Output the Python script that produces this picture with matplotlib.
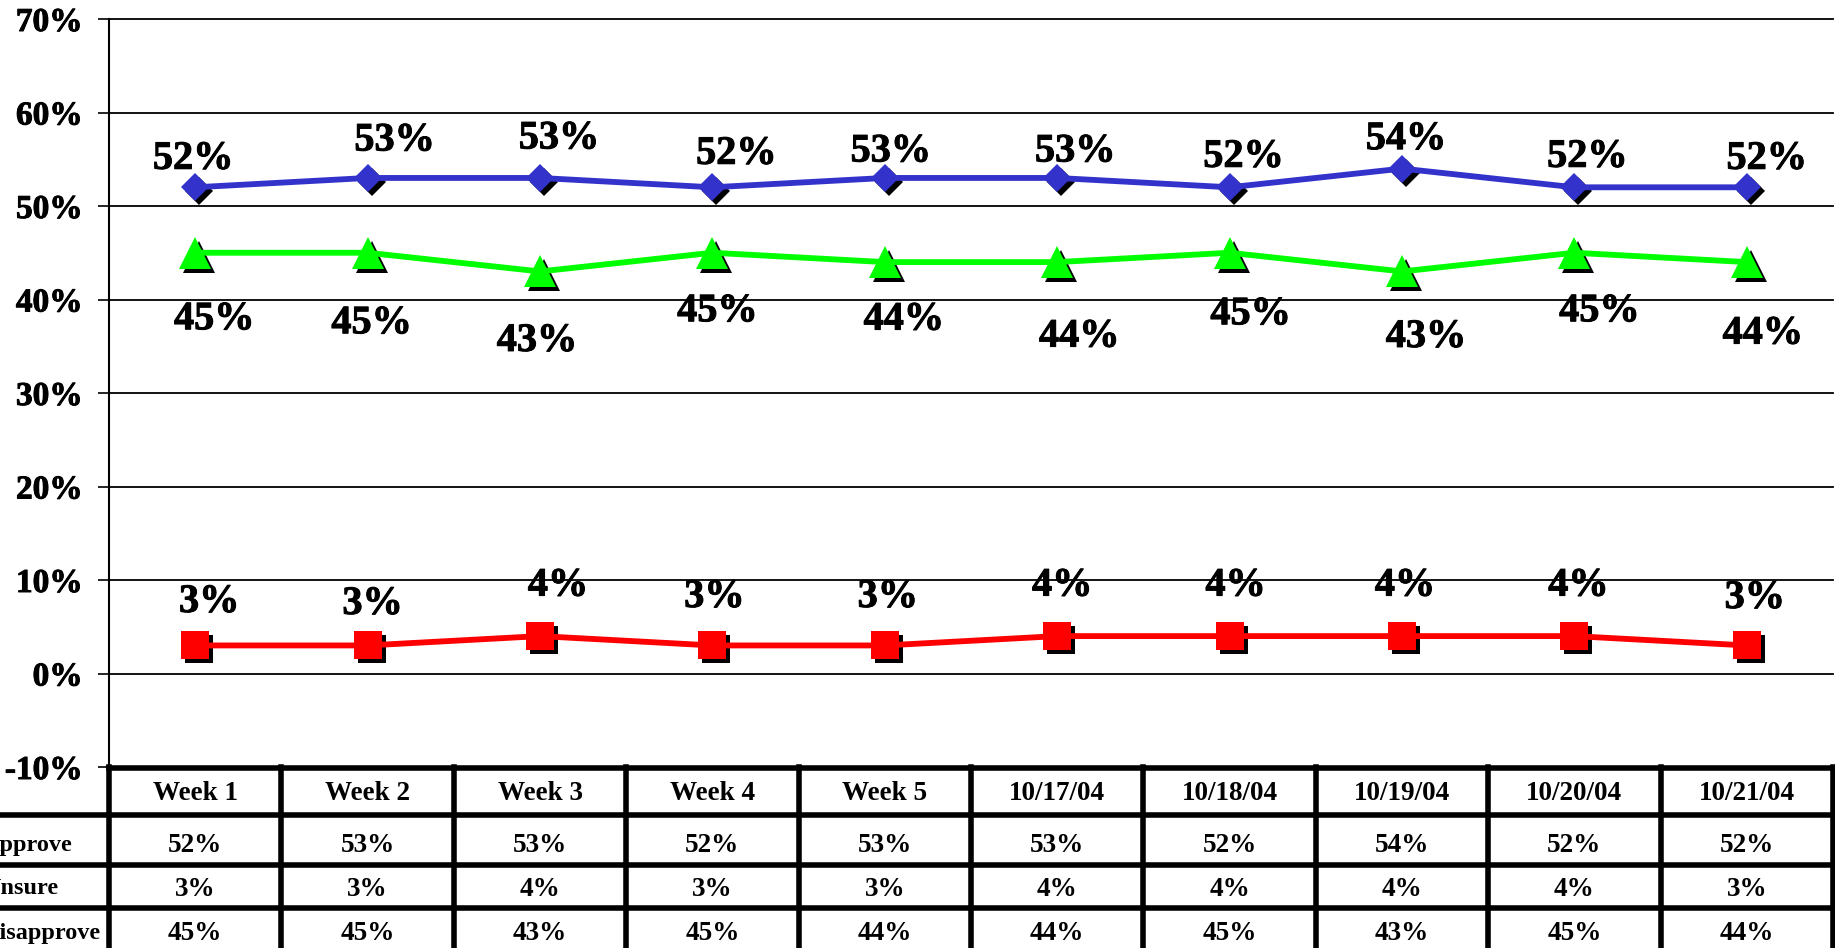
import matplotlib
matplotlib.use("Agg")
import matplotlib.pyplot as plt
from matplotlib import transforms
from matplotlib import patheffects as pe
from matplotlib.lines import Line2D
from matplotlib.ticker import FuncFormatter

# ---------------- data ----------------
categories = ["Week 1", "Week 2", "Week 3", "Week 4", "Week 5",
              "10/17/04", "10/18/04", "10/19/04", "10/20/04", "10/21/04"]
approve = [52, 53, 53, 52, 53, 53, 52, 54, 52, 52]
unsure = [3, 3, 4, 3, 3, 4, 4, 4, 4, 3]
disapprove = [45, 45, 43, 45, 44, 44, 45, 43, 45, 44]
row_labels = ["Approve", "Unsure", "Disapprove"]
y_ticks = list(range(-10, 71, 10))

# label offsets (pixels, +x right, +y down) mimicking the manual placement
approve_off = [(-2, -32), (27, -41), (19, -43), (24, -37), (6, -30),
               (18, -30), (14, -34), (4, -33), (13, -34), (20, -32)]
disapprove_off = [(19, 63), (4, 67), (-3, 66), (5, 55), (19, 54),
                  (22, 71), (21, 58), (24, 62), (25, 55), (16, 68)]
unsure_off = [(14, -47), (5, -45), (18, -54), (2, -52), (3, -52),
              (5, -54), (6, -54), (3, -54), (4, -54), (8, -51)]

W, H = 1835, 948
FONT = "Liberation Serif"
heavy = [pe.withStroke(linewidth=0.7, foreground="black")]

fig = plt.figure(figsize=(W / 100, H / 100), dpi=100)
ax = fig.add_axes([109 / W, (H - 767) / H, (1833 - 109) / W, (767 - 19) / H])

x = list(range(len(categories)))
ax.set_xlim(-0.5, len(categories) - 0.5)
ax.set_ylim(-10, 70)

shadow = transforms.offset_copy(ax.transData, fig=fig, x=4, y=-4, units="dots")

series = [
    (approve, "#3333CC", "D", 14.3, approve_off),
    (disapprove, "#00FF00", "^", 23, disapprove_off),
    (unsure, "#FF0000", "s", 20, unsure_off),
]
for vals, col, mk, ms, offs in series:
    ax.plot(x, vals, ls="none", marker=mk, ms=ms, mew=0, color="black",
            transform=shadow, zorder=2, clip_on=False)
    ax.plot(x, vals, color=col, lw=4.2, zorder=3, solid_capstyle="butt")
    ax.plot(x, vals, ls="none", marker=mk, ms=ms, mew=0, color=col, zorder=4,
            clip_on=False)
    for xi, v, (dx, dy) in zip(x, vals, offs):
        ax.annotate(f"{v}%", (xi, v), xytext=(dx, -dy - 4),
                    textcoords="offset pixels", ha="center", va="center",
                    fontsize=29, fontweight="bold", family=FONT, zorder=5,
                    path_effects=heavy)

# axes styling
ax.set_yticks(y_ticks)
ax.yaxis.set_major_formatter(FuncFormatter(lambda v, p: f"{v:.0f}%"))
ax.set_xticks([])
ax.yaxis.grid(True, color="black", lw=1.3)
for gl in ax.get_ygridlines():
    gl.set_clip_on(False)
ax.set_axisbelow(True)
for s in ["top", "right", "bottom"]:
    ax.spines[s].set_visible(False)
ax.spines["left"].set_linewidth(1.5)
ax.tick_params(axis="y", direction="out", length=8, width=1.2, pad=11,
               labelsize=24, colors="black")
for lab in ax.get_yticklabels():
    lab.set_fontweight("bold")
    lab.set_family(FONT)
    lab.set_path_effects(heavy)

# ---------------- data table ----------------
def fy(ypx):
    return 1 - ypx / H

blend = transforms.blended_transform_factory(ax.transData, fig.transFigure)
lw_tab = 4

# horizontal lines
fig.add_artist(Line2D([-0.5, len(categories) - 0.5], [fy(768), fy(768)],
                      transform=blend, color="black", lw=lw_tab))
for ypx in [815, 864.5, 907.5]:
    fig.add_artist(Line2D([0, 1], [fy(ypx), fy(ypx)], transform=fig.transFigure,
                          color="black", lw=lw_tab))
# vertical lines
for i in range(len(categories) + 1):
    fig.add_artist(Line2D([i - 0.5, i - 0.5], [fy(767), fy(960)], transform=blend,
                          color="black", lw=lw_tab))

text_kw = dict(ha="center", va="center", fontsize=19.5, fontweight="bold",
               family=FONT)
header_y = 794
row_y = [845, 889, 934]
for i, cat in enumerate(categories):
    fig.text(i, fy(header_y), cat, transform=blend, **text_kw)
for vals, ry in zip([approve, unsure, disapprove], row_y):
    for i, v in enumerate(vals):
        fig.text(i, fy(ry), f"{v}%", transform=blend, **text_kw)
for lab, ry in zip(row_labels, row_y):
    fig.text(-17 / W, fy(ry), lab, ha="left", va="center", fontsize=17.5,
             fontweight="bold", family=FONT)

fig.savefig("out.png", dpi=100)
